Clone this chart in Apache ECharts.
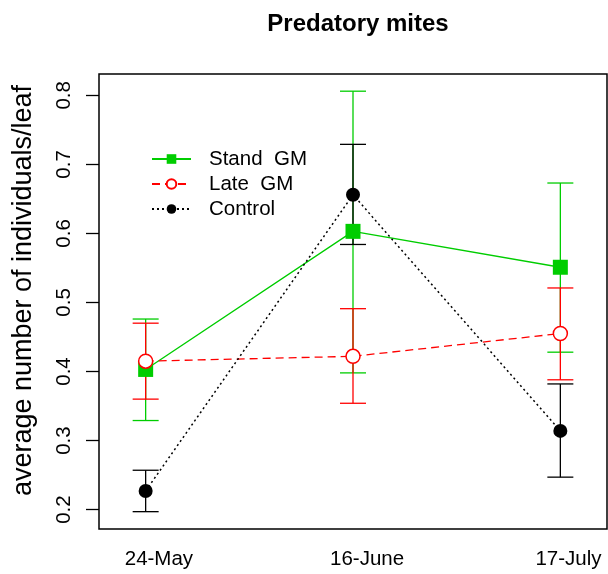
<!DOCTYPE html>
<html>
<head>
<meta charset="utf-8">
<script src="https://cdn.jsdelivr.net/npm/echarts@6/dist/echarts.min.js"></script>
<style>html,body{margin:0;padding:0;background:#fff;}#c{width:608px;height:574px;}</style>
</head>
<body>
<div id="c"></div>
<script>
const categories = ['24-May', '16-June', '17-July'];
const yTicks = [0.2, 0.3, 0.4, 0.5, 0.6, 0.7, 0.8];

const standMean = [0.403, 0.603, 0.551];
const standLow  = [0.329, 0.398, 0.428];
const standHigh = [0.476, 0.806, 0.673];

const lateMean = [0.415, 0.422, 0.455];
const lateLow  = [0.360, 0.354, 0.388];
const lateHigh = [0.470, 0.491, 0.521];

const controlMean = [0.227, 0.656, 0.314];
const controlLow  = [0.197, 0.584, 0.247];
const controlHigh = [0.257, 0.729, 0.382];

const FONT = 'Liberation Sans, Arial, Helvetica, sans-serif';
const GREEN = '#00CD00', RED = '#FF0000', BLACK = '#000000';

const pts = arr => arr.map((v, i) => [i + 1, v]);
const bars = (lo, hi) => lo.map((v, i) => [i + 1, v, hi[i]]);

function errRender(color) {
  return function (params, api) {
    const x = api.value(0);
    const a = api.coord([x, api.value(1)]);
    const b = api.coord([x, api.value(2)]);
    const hw = 13;
    const st = { stroke: color, lineWidth: 1.3 };
    return {
      type: 'group',
      children: [
        { type: 'line', shape: { x1: a[0], y1: a[1], x2: b[0], y2: b[1] }, style: st },
        { type: 'line', shape: { x1: a[0] - hw, y1: a[1], x2: a[0] + hw, y2: a[1] }, style: st },
        { type: 'line', shape: { x1: b[0] - hw, y1: b[1], x2: b[0] + hw, y2: b[1] }, style: st }
      ]
    };
  };
}

const labelPos = [1.064, 2.068, 3.039];

const chart = echarts.init(document.getElementById('c'), null, { renderer: 'canvas' });
chart.setOption({
  animation: false,
  backgroundColor: '#fff',
  textStyle: { fontFamily: FONT },
  title: {
    text: 'Predatory mites',
    left: 353, textAlign: 'center', top: 7,
    textStyle: { fontFamily: FONT, fontSize: 24, fontWeight: 'bold', color: '#000' }
  },
  grid: {
    left: 99, right: 1, top: 74, bottom: 45,
    show: true, borderColor: '#000', borderWidth: 1.5, backgroundColor: 'transparent'
  },
  legend: {
    orient: 'vertical', left: 151, top: 148, padding: 0,
    itemWidth: 39, itemHeight: 12, itemGap: 3,
    data: ['Stand  GM', 'Late  GM', 'Control'],
    textStyle: { fontFamily: FONT, fontSize: 20.5, color: '#000', lineHeight: 22, padding: [0, 0, 0, 13] }
  },
  xAxis: {
    type: 'value', min: 0.775, max: 3.225,
    splitLine: { show: false },
    axisLine: { show: false },
    axisTick: { show: false },
    axisLabel: {
      customValues: labelPos,
      formatter: (v) => { const i = labelPos.indexOf(v); return i >= 0 ? categories[i] : ''; },
      fontFamily: FONT, fontSize: 20.5, color: '#000', margin: 20
    }
  },
  yAxis: {
    type: 'value', min: 0.1719, max: 0.8309,
    name: 'average number of individuals/leaf',
    nameLocation: 'middle', nameRotate: 90, nameGap: 62,
    nameTextStyle: { fontFamily: FONT, fontSize: 27, color: '#000', padding: [0, 0, 0, 22] },
    splitLine: { show: false },
    axisLine: { show: false },
    axisTick: { show: true, customValues: yTicks, length: 13, inside: false, lineStyle: { color: '#000', width: 1.3 } },
    axisLabel: {
      customValues: yTicks, rotate: 90, margin: 24,
      formatter: v => v.toFixed(1),
      fontFamily: FONT, fontSize: 20.5, color: '#000'
    }
  },
  series: [
    { type: 'custom', renderItem: errRender(GREEN), data: bars(standLow, standHigh), encode: { x: 0, y: [1, 2] }, z: 1, silent: true },
    { type: 'custom', renderItem: errRender(RED), data: bars(lateLow, lateHigh), encode: { x: 0, y: [1, 2] }, z: 1, silent: true },
    { type: 'custom', renderItem: errRender(BLACK), data: bars(controlLow, controlHigh), encode: { x: 0, y: [1, 2] }, z: 1, silent: true },
    {
      name: 'Stand  GM', type: 'line', data: pts(standMean), z: 3,
      symbol: 'rect', symbolSize: 15,
      itemStyle: { color: GREEN, borderWidth: 0 },
      lineStyle: { color: GREEN, width: 1.3, type: 'solid' }
    },
    {
      name: 'Late  GM', type: 'line', data: pts(lateMean), z: 3,
      symbol: 'circle', symbolSize: 14,
      itemStyle: { color: '#fff', borderColor: RED, borderWidth: 1.5 },
      lineStyle: { color: RED, width: 1.3, type: [8, 5] }
    },
    {
      name: 'Control', type: 'line', data: pts(controlMean), z: 3,
      symbol: 'circle', symbolSize: 14,
      itemStyle: { color: BLACK, borderWidth: 0 },
      lineStyle: { color: BLACK, width: 1.5, type: [2, 3] }
    }
  ]
});
</script>
</body>
</html>
